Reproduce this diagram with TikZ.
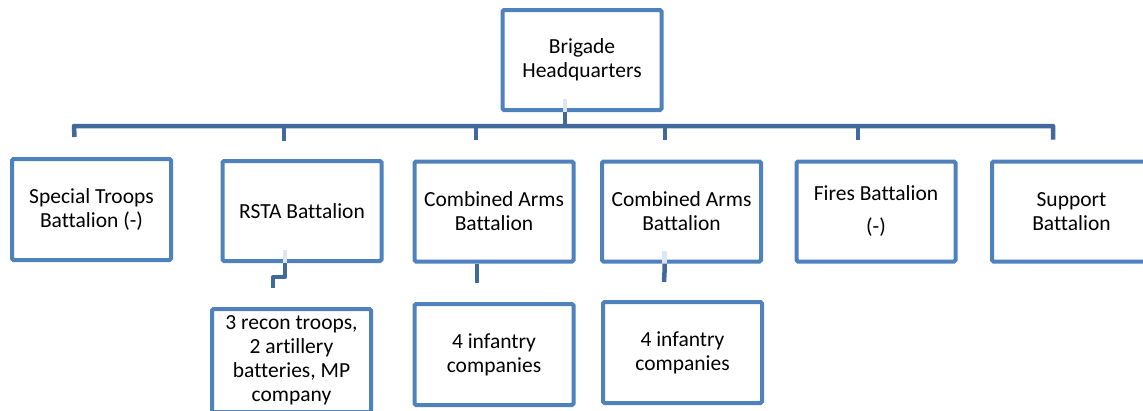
\documentclass[tikz,border=0pt]{standalone}
\usepackage{fontspec}
\setmainfont[Ligatures=NoCommon]{Carlito}
\definecolor{boxblue}{HTML}{4F81BD}
\definecolor{linkblue}{HTML}{41699B}
\definecolor{paleblue}{HTML}{DCE6F2}
\begin{document}
\begin{tikzpicture}[x=1pt,y=-1pt,
  box/.style={draw=boxblue, line width=4pt, fill=white, rounded corners=1.5pt,
    align=center, inner sep=0pt, font=\fontsize{21.5}{24}\selectfont,
    minimum width=159pt, minimum height=100pt},
  link/.style={draw=linkblue, line width=4.5pt},
  palelink/.style={draw=paleblue, line width=4.5pt}]
\useasboundingbox (0,0) rectangle (1143,410);
% nodes
\node[box] (hq) at (582,60) {Brigade\\Headquarters};
\node[box, minimum height=101pt] (st) at (91.5,209.5) {Special Troops\\Battalion (-)};
\node[box] (rsta) at (302,211) {RSTA Battalion};
\node[box] (ca1) at (494,211.5) {Combined Arms\\Battalion};
\node[box] (ca2) at (681.5,211.5) {Combined Arms\\Battalion};
\node[box, font=\fontsize{21.5}{33}\selectfont] (fires) at (876,211.5) {Fires Battalion\\(-)};
\node[box] (sup) at (1071.5,211.5) {Support\\Battalion};
\node[box, minimum height=103pt] (recon) at (291.5,360.5) {3 recon troops,\\2 artillery\\batteries, MP\\company};
\node[box, minimum height=101pt] (inf1) at (494,354.5) {4 infantry\\companies};
\node[box, minimum height=101pt] (inf2) at (682.5,352.5) {4 infantry\\companies};
% bus coordinates
\coordinate (hqout) at ([xshift=-17pt]hq.south);
\coordinate (bus) at (565,126);
\coordinate (bL) at (74,126);
\coordinate (bR) at (1053,126);
% pale starts inside boxes
\draw[palelink] ([yshift=13pt]hqout) -- (hqout);
\draw[palelink] ([xshift=-17pt,yshift=13pt]rsta.south) -- ([xshift=-17pt]rsta.south);
\draw[palelink] ([xshift=-17pt,yshift=13pt]ca2.south) -- ([xshift=-17pt]ca2.south);
% HQ to bus
\draw[link] (hqout) -- (bus);
\draw[link, line join=round] ([xshift=-17pt,yshift=20pt]st.north) -- (bL) -- (bR) -- ([xshift=-18.5pt,yshift=20pt]sup.north);
\draw[link] (284,126) -- ([xshift=-18pt,yshift=18pt]rsta.north);
\draw[link] (476,126) -- ([xshift=-18pt,yshift=20pt]ca1.north);
\draw[link] (665,126) -- ([xshift=-16.5pt,yshift=20pt]ca2.north);
\draw[link] (858,126) -- ([xshift=-18pt,yshift=20pt]fires.north);
% second level
\draw[link, line join=round] ([xshift=-17pt]rsta.south) -- ++(0,14) -| ([xshift=-18.5pt,yshift=19pt]recon.north);
\draw[link] ([xshift=-17pt]ca1.south) -- ([xshift=-17pt,yshift=19pt]inf1.north);
\draw[link] ([xshift=-17pt]ca2.south) -- ++(0,9) -- ([xshift=-18.5pt,yshift=18pt]inf2.north);
\end{tikzpicture}
\end{document}
